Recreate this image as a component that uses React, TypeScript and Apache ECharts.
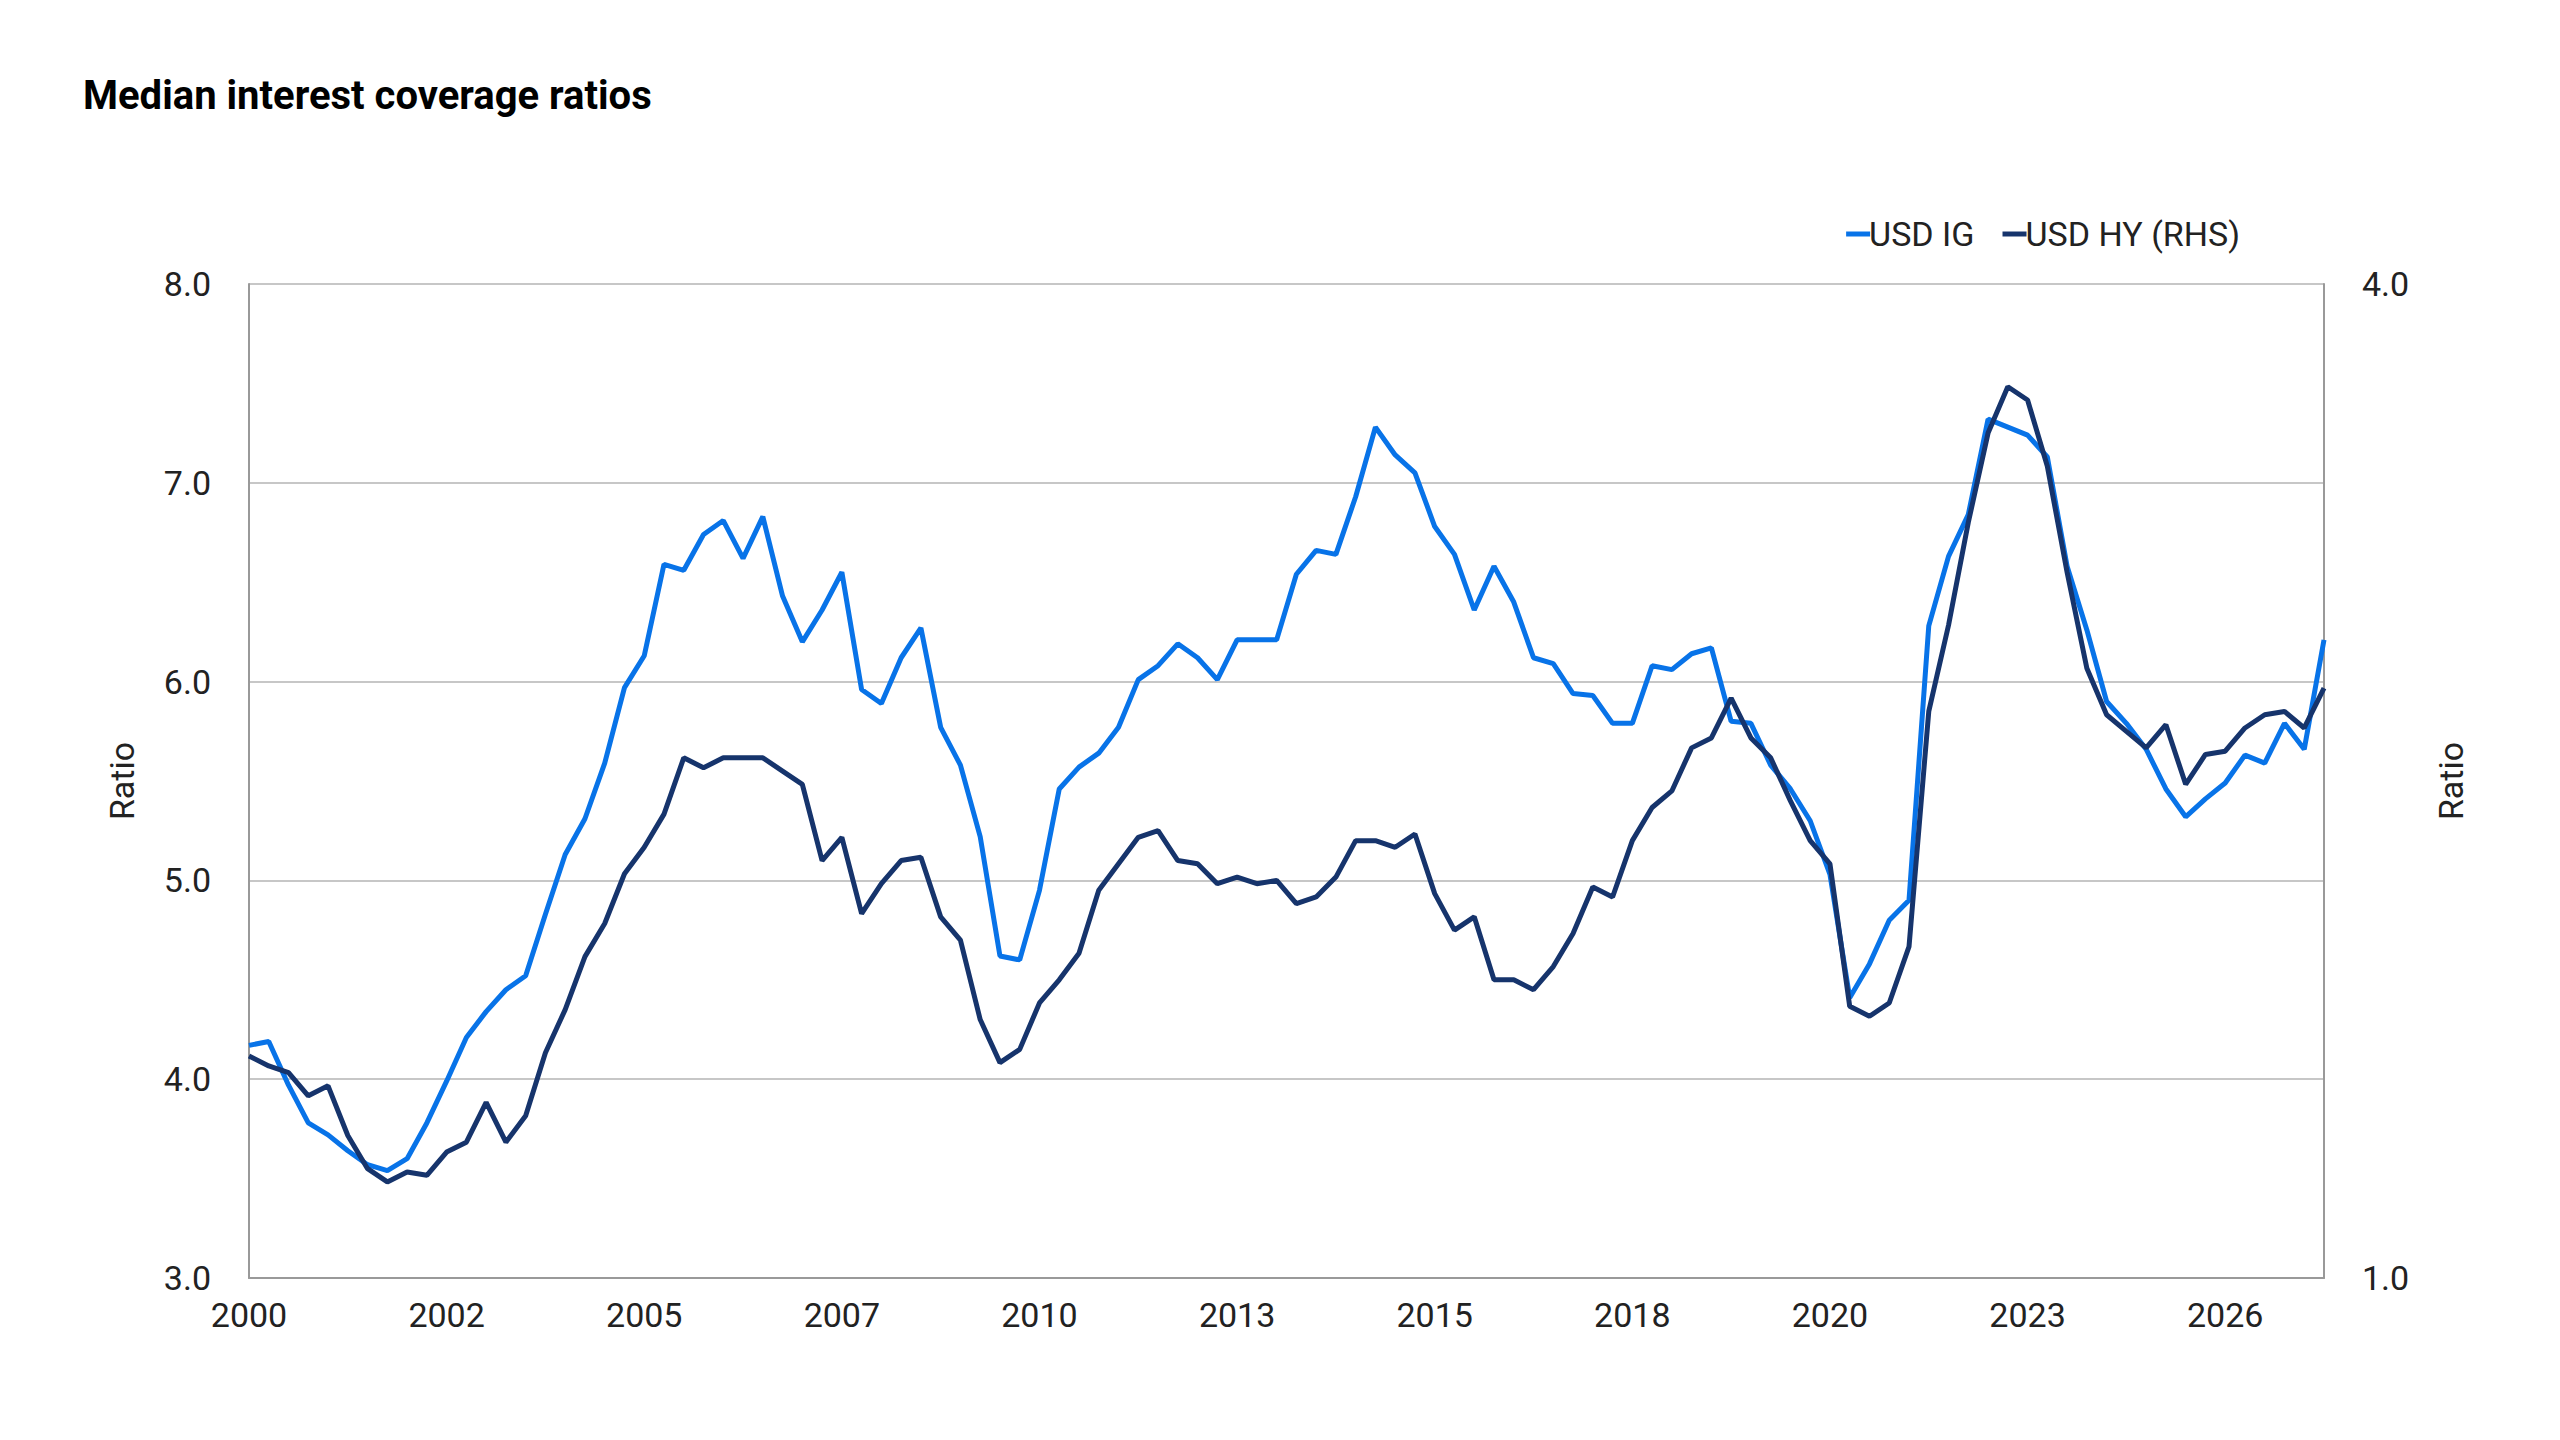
import { useEffect, useRef } from 'react'
import * as echarts from 'echarts'

const usdIG = [
  4.17, 4.19, 3.97, 3.78, 3.72, 3.64, 3.57, 3.54, 3.6, 3.78,
  3.99, 4.21, 4.34, 4.45, 4.52, 4.83, 5.13, 5.31, 5.59, 5.97,
  6.13, 6.59, 6.56, 6.74, 6.81, 6.62, 6.83, 6.43, 6.2, 6.36,
  6.55, 5.96, 5.89, 6.12, 6.27, 5.77, 5.58, 5.22, 4.62, 4.6,
  4.95, 5.46, 5.57, 5.64, 5.77, 6.01, 6.08, 6.19, 6.12, 6.01,
  6.21, 6.21, 6.21, 6.54, 6.66, 6.64, 6.93, 7.28, 7.14, 7.05,
  6.78, 6.64, 6.36, 6.58, 6.4, 6.12, 6.09, 5.94, 5.93, 5.79,
  5.79, 6.08, 6.06, 6.14, 6.17, 5.8, 5.79, 5.58, 5.46, 5.3,
  5.03, 4.41, 4.58, 4.8, 4.9, 6.28, 6.63, 6.84, 7.32, 7.28,
  7.24, 7.13, 6.58, 6.26, 5.9, 5.79, 5.66, 5.46, 5.32, 5.41,
  5.49, 5.63, 5.59, 5.79, 5.66, 6.21,
]

const usdHY = [
  1.67, 1.64, 1.62, 1.55, 1.58, 1.43, 1.33, 1.29, 1.32, 1.31,
  1.38, 1.41, 1.53, 1.41, 1.49, 1.68, 1.81, 1.97, 2.07, 2.22,
  2.3, 2.4, 2.57, 2.54, 2.57, 2.57, 2.57, 2.53, 2.49, 2.26,
  2.33, 2.1, 2.19, 2.26, 2.27, 2.09, 2.02, 1.78, 1.65, 1.69,
  1.83, 1.9, 1.98, 2.17, 2.25, 2.33, 2.35, 2.26, 2.25, 2.19,
  2.21, 2.19, 2.2, 2.13, 2.15, 2.21, 2.32, 2.32, 2.3, 2.34,
  2.16, 2.05, 2.09, 1.9, 1.9, 1.87, 1.94, 2.04, 2.18, 2.15,
  2.32, 2.42, 2.47, 2.6, 2.63, 2.75, 2.63, 2.57, 2.44, 2.32,
  2.25, 1.82, 1.79, 1.83, 2.0, 2.71, 2.97, 3.28, 3.55, 3.69,
  3.65, 3.45, 3.13, 2.84, 2.7, 2.65, 2.6, 2.67, 2.49, 2.58,
  2.59, 2.66, 2.7, 2.71, 2.66, 2.78,
]

// one label every ten quarters
const tickLabels = ['2000', '2002', '2005', '2007', '2010', '2013', '2015', '2018', '2020', '2023', '2026']
const categories = usdIG.map((_, i) => String(i))

const FONT = 'Roboto, "Noto Sans", sans-serif'

export default function App() {
  const chartRef = useRef<HTMLDivElement>(null)

  useEffect(() => {
    if (!chartRef.current) return
    document.body.style.margin = '0'
    const chart = echarts.init(chartRef.current, null, { renderer: 'svg' })

    const axisText = { color: '#222', fontSize: 34, fontFamily: FONT }
    const gridLine = { lineStyle: { color: '#b5b5b5', width: 1.5 } }
    const axisLine = { show: true, lineStyle: { color: '#999', width: 2 } }

    chart.setOption({
      animation: false,
      textStyle: { fontFamily: FONT },
      title: {
        text: 'Median interest coverage ratios',
        left: 78,
        top: 70,
        textStyle: { fontSize: 40, fontWeight: 'bold', color: '#000', fontFamily: FONT },
      },
      legend: {
        right: 315,
        top: 212,
        icon: 'rect',
        itemWidth: 24,
        itemHeight: 5,
        itemGap: 28,
        textStyle: { ...axisText, padding: [0, 0, 0, -6] },
        data: ['USD IG', 'USD HY (RHS)'],
      },
      grid: { left: 249, right: 236, top: 284, bottom: 162, containLabel: false },
      xAxis: {
        type: 'category',
        boundaryGap: false,
        data: categories,
        axisLine,
        axisTick: { show: false },
        axisLabel: {
          ...axisText,
          margin: 20,
          interval: (i: number) => i % 10 === 0,
          formatter: (_: string, i: number) => tickLabels[i / 10] ?? '',
        },
      },
      yAxis: [
        {
          type: 'value',
          min: 3,
          max: 8,
          interval: 1,
          name: 'Ratio',
          nameLocation: 'middle',
          nameGap: 110,
          nameTextStyle: axisText,
          axisLine,
          axisLabel: { ...axisText, margin: 38, formatter: (v: number) => v.toFixed(1) },
          splitLine: gridLine,
        },
        {
          type: 'value',
          min: 1,
          max: 4,
          interval: 0.6,
          name: 'Ratio',
          nameLocation: 'middle',
          nameGap: 110,
          nameTextStyle: axisText,
          axisLine,
          axisLabel: {
            ...axisText,
            margin: 38,
            formatter: (v: number) => ([1, 2, 3, 4].some(t => Math.abs(t - v) < 1e-6) ? v.toFixed(1) : ''),
          },
          splitLine: { show: false },
        },
      ],
      series: [
        {
          name: 'USD IG',
          type: 'line',
          data: usdIG,
          showSymbol: false,
          itemStyle: { color: '#0873E8' },
          lineStyle: { width: 5, color: '#0873E8' },
        },
        {
          name: 'USD HY (RHS)',
          type: 'line',
          yAxisIndex: 1,
          data: usdHY,
          showSymbol: false,
          itemStyle: { color: '#16346C' },
          lineStyle: { width: 5, color: '#16346C' },
        },
      ],
    })

    return () => chart.dispose()
  }, [])

  return <div ref={chartRef} style={{ position: 'absolute', left: 0, top: 0, width: 2560, height: 1440, background: '#fff' }} />
}
